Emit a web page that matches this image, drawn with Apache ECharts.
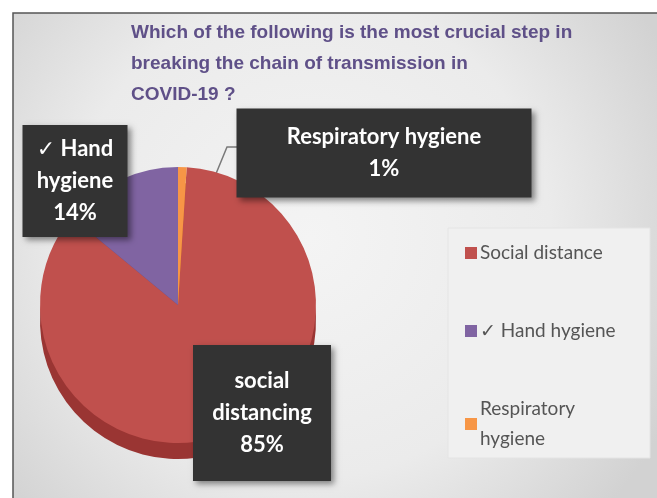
<!DOCTYPE html>
<html>
<head>
<meta charset="utf-8">
<script src="https://cdn.jsdelivr.net/npm/echarts@6/dist/echarts.min.js"></script>
<style>
html,body{margin:0;padding:0;background:#fff;}
#c{width:657px;height:498px;}
</style>
</head>
<body>
<div id="c"></div>
<script>
const titleLines = ["Which of the following is the most crucial step in", "breaking the chain of transmission in", "COVID-19 ?"];
const categories = ["Social distance", "\u2713 Hand hygiene", "Respiratory hygiene"];
const legendLabels = ["Social distance", "\u2713 Hand hygiene", "Respiratory\nhygiene"];
const values = [85, 14, 1];
const boxLabels = ["social\ndistancing\n85%", "\u2713 Hand\nhygiene\n14%", "Respiratory hygiene\n1%"];
const colors = ["#c0504d", "#8064a2", "#f79646"];
const sideColors = ["#9a3533", "#5f4680", "#c56f25"];

const chart = echarts.init(document.getElementById('c'), null, {renderer: 'canvas'});

const labelPos = [
  {x: 262, y: 413, w: 138, h: 136},
  {x: 75, y: 181, w: 105, h: 112},
  {x: 384, y: 153, w: 295, h: 89}
];

const labelFont = 'Lato, "DejaVu Sans", sans-serif';

const option = {
  animation: false,
  backgroundColor: '#ffffff',
  graphic: [
    {
      type: 'rect', z: -10, silent: true,
      shape: {x: 13, y: 13, width: 660, height: 500},
      style: {
        fill: {type: 'radial', x: 0.45, y: 0.45, r: 0.8, colorStops: [
          {offset: 0, color: '#f4f4f4'}, {offset: 0.6, color: '#ebebeb'}, {offset: 1, color: '#d2d2d2'}]},
        stroke: '#555', lineWidth: 1.5
      }
    },
    {
      type: 'rect', z: -9, silent: true,
      shape: {x: 448, y: 228, width: 202, height: 230},
      style: {fill: '#f0f0f0', stroke: '#e4e4e4', lineWidth: 1}
    },
    {
      type: 'text', left: 131, top: 17, z: 5,
      style: {
        text: titleLines.join('\n'),
        font: 'bold 19px "Liberation Sans", Arial, sans-serif',
        fill: '#5f5088',
        lineHeight: 31
      }
    }
  ],
  legend: {
    orient: 'vertical',
    left: 460,
    top: 233,
    itemGap: 48,
    itemWidth: 12,
    itemHeight: 12,
    icon: 'rect',
    data: categories,
    formatter: function (name) { return legendLabels[categories.indexOf(name)]; },
    textStyle: {fontFamily: labelFont, fontSize: 19, color: '#555', lineHeight: 30, padding: [0,0,0,-2]}
  },
  series: [
    {
      type: 'pie',
      z: 2,
      center: [178, 305],
      radius: 138,
      startAngle: 86.4,
      clockwise: true,
      data: categories.map((n, i) => ({
        name: n, value: values[i],
        itemStyle: {color: colors[i]},
        label: {width: labelPos[i].w - 10, height: labelPos[i].h - 10}
      })),
      label: {
        show: true,
        position: 'outside',
        formatter: function (p) { return boxLabels[p.dataIndex]; },
        color: '#ffffff',
        fontFamily: labelFont,
        fontWeight: 'bold',
        fontSize: 22,
        lineHeight: 32,
        align: 'center',
        verticalAlign: 'middle',
        backgroundColor: '#333333',
        padding: 5,
        shadowColor: 'rgba(0,0,0,0.45)',
        shadowBlur: 6,
        shadowOffsetX: 3,
        shadowOffsetY: 3
      },
      labelLine: {show: true, lineStyle: {color: '#7a7a7a', width: 1.5}},
      labelLayout: function (params) {
        const i = params.dataIndex;
        const p = labelPos[i];
        const res = {x: p.x, y: p.y, align: 'center', verticalAlign: 'middle'};
        if (i === 2) {
          res.labelLinePoints = [[213, 181], [227, 147], [237, 147]];
        } else {
          res.labelLinePoints = [[p.x, p.y], [p.x, p.y], [p.x, p.y]];
        }
        return res;
      },
      emphasis: {disabled: true}
    },
    {
      type: 'pie',
      silent: true,
      z: 1,
      center: [178, 321],
      radius: 138,
      startAngle: 86.4,
      clockwise: true,
      label: {show: false},
      labelLine: {show: false},
      legendHoverLink: false,
      data: categories.map((n, i) => ({name: n, value: values[i], itemStyle: {color: sideColors[i]}}))
    }
  ]
};
chart.setOption(option);
</script>
</body>
</html>
